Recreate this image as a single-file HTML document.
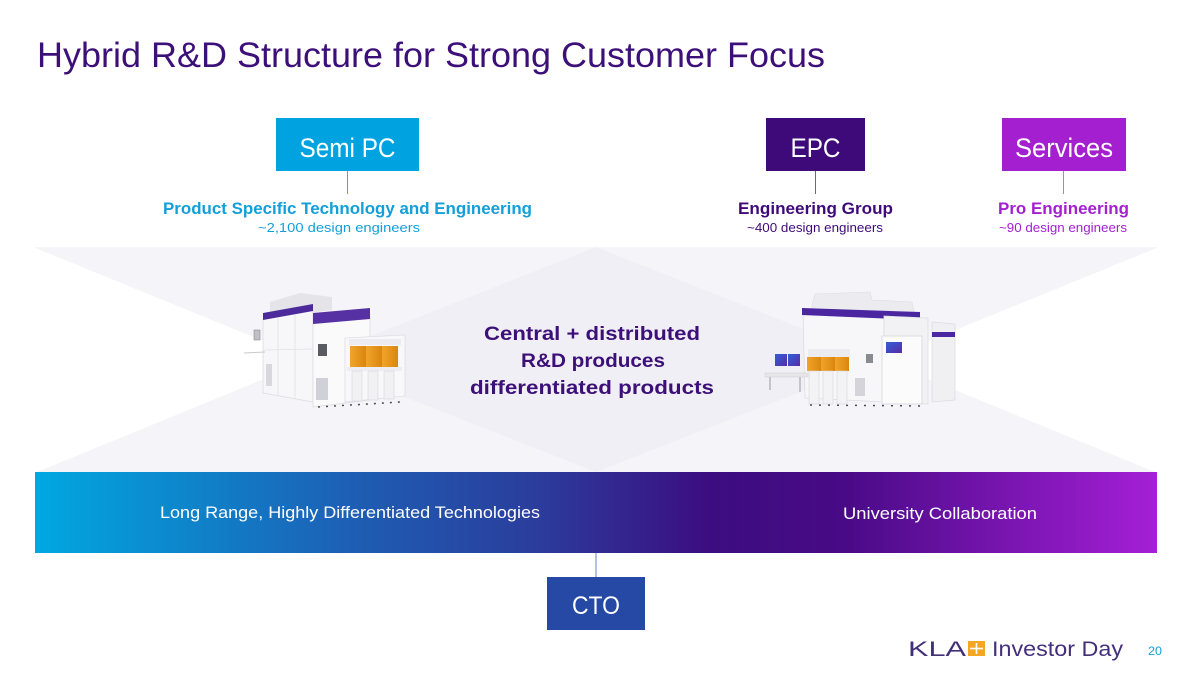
<!DOCTYPE html>
<html>
<head>
<meta charset="utf-8">
<style>
  html, body { margin: 0; padding: 0; background: #ffffff; }
  svg { display: block; }
  text { font-family: "Liberation Sans", "DejaVu Sans", sans-serif; }
</style>
</head>
<body>
<svg width="1200" height="675" viewBox="0 0 1200 675" xmlns="http://www.w3.org/2000/svg">
  <defs>
    <linearGradient id="bar" x1="0" y1="0" x2="1" y2="0">
      <stop offset="0" stop-color="#00a8e1"/>
      <stop offset="0.28" stop-color="#1d5fb4"/>
      <stop offset="0.45" stop-color="#2b3c9c"/>
      <stop offset="0.6" stop-color="#3c0d80"/>
      <stop offset="0.72" stop-color="#480a86"/>
      <stop offset="1" stop-color="#a51fd6"/>
    </linearGradient>
    <linearGradient id="orange" x1="0" y1="0" x2="1" y2="0">
      <stop offset="0" stop-color="#f2a42a"/>
      <stop offset="1" stop-color="#d9860f"/>
    </linearGradient>
    <linearGradient id="blueScreen" x1="0" y1="0" x2="1" y2="1">
      <stop offset="0" stop-color="#2f60d8"/>
      <stop offset="1" stop-color="#5a2aa8"/>
    </linearGradient>
  </defs>

  <!-- Title -->
  <text x="37" y="67" font-size="35" fill="#3c1078" textLength="788" lengthAdjust="spacingAndGlyphs">Hybrid R&amp;D Structure for Strong Customer Focus</text>

  <!-- Top boxes -->
  <rect x="276" y="118" width="143" height="53" fill="#00a3df"/>
  <text x="347.5" y="157" font-size="27" fill="#ffffff" text-anchor="middle" textLength="96" lengthAdjust="spacingAndGlyphs">Semi PC</text>

  <rect x="766" y="118" width="99" height="53" fill="#3e0a7a"/>
  <text x="815.5" y="157" font-size="27" fill="#ffffff" text-anchor="middle" textLength="50" lengthAdjust="spacingAndGlyphs">EPC</text>

  <rect x="1002" y="118" width="124" height="53" fill="#a41fd0"/>
  <text x="1064" y="157" font-size="27" fill="#ffffff" text-anchor="middle" textLength="98" lengthAdjust="spacingAndGlyphs">Services</text>

  <!-- connectors -->
  <line x1="347.5" y1="171" x2="347.5" y2="194" stroke="#33b0e3" stroke-width="1"/>
  <line x1="815.5" y1="171" x2="815.5" y2="194" stroke="#7a5aa4" stroke-width="1"/>
  <line x1="1063.5" y1="171" x2="1063.5" y2="194" stroke="#c273e2" stroke-width="1"/>

  <!-- Labels -->
  <text x="347.5" y="214" font-size="17" font-weight="bold" fill="#149fd9" text-anchor="middle" textLength="369" lengthAdjust="spacingAndGlyphs">Product Specific Technology and Engineering</text>
  <text x="339" y="232" font-size="13" fill="#149fd9" text-anchor="middle" textLength="162" lengthAdjust="spacingAndGlyphs">~2,100 design engineers</text>

  <text x="815.5" y="214" font-size="17" font-weight="bold" fill="#3e0a7a" text-anchor="middle" textLength="155" lengthAdjust="spacingAndGlyphs">Engineering Group</text>
  <text x="815" y="232" font-size="13" fill="#3e0a7a" text-anchor="middle" textLength="136" lengthAdjust="spacingAndGlyphs">~400 design engineers</text>

  <text x="1063.5" y="214" font-size="17" font-weight="bold" fill="#a41fd0" text-anchor="middle" textLength="131" lengthAdjust="spacingAndGlyphs">Pro Engineering</text>
  <text x="1063" y="232" font-size="13" fill="#a41fd0" text-anchor="middle" textLength="128" lengthAdjust="spacingAndGlyphs">~90 design engineers</text>

  <!-- Background X shape -->
  <rect x="35" y="247" width="1122" height="225" fill="#f5f5f9"/>
  <polygon points="596,247 882,360 596,472 310,360" fill="#efeff5"/>
  <polygon points="33,247 310,360 37,472 0,472 0,247" fill="#ffffff"/>
  <polygon points="1159,247 882,360 1155,472 1200,472 1200,247" fill="#ffffff"/>

  <!-- Left machine -->
  <g>
    <!-- back top box -->
    <polygon points="270,302 300,293 332,297 332,310 270,318" fill="#e4e4e9"/>
    <!-- left unit body -->
    <polygon points="263,319 313,310 313,402 263,393" fill="#f7f7f9" stroke="#dcdce2" stroke-width="0.8"/>
    <line x1="278" y1="318" x2="278" y2="396" stroke="#e0e0e6" stroke-width="0.8"/>
    <line x1="295" y1="315" x2="295" y2="399" stroke="#e0e0e6" stroke-width="0.8"/>
    <line x1="263" y1="350" x2="313" y2="349" stroke="#e0e0e6" stroke-width="0.8"/>
    <!-- left unit purple band -->
    <polygon points="263,313 313,304 313,311 263,320" fill="#4d2a9c"/>
    <!-- small monitor on side -->
    <rect x="254" y="330" width="6" height="10" fill="#bfbfc6" stroke="#8a8a92" stroke-width="0.6"/>
    <line x1="244" y1="353" x2="265" y2="352" stroke="#c8c8ce" stroke-width="1"/>
    <!-- left grille -->
    <rect x="266" y="364" width="6" height="22" fill="#d8d8de"/>
    <!-- front unit body -->
    <polygon points="313,319 370,314 370,400 313,407" fill="#fafafb" stroke="#dcdce2" stroke-width="0.8"/>
    <!-- front unit purple band -->
    <polygon points="313,313 370,308 370,319 313,324" fill="#5531a4"/>
    <!-- front unit window -->
    <rect x="318" y="344" width="9" height="12" fill="#5a5a62"/>
    <!-- front vent -->
    <rect x="316" y="378" width="12" height="22" fill="#d0d0d8"/>
    <!-- load port section -->
    <polygon points="345,338 405,335 405,396 345,402" fill="#f8f8fa" stroke="#dedee4" stroke-width="0.8"/>
    <rect x="349" y="339" width="52" height="6" fill="#ececf0"/>
    <!-- orange pods -->
    <rect x="350" y="346" width="16" height="21" fill="url(#orange)"/>
    <rect x="366" y="346" width="16" height="21" fill="url(#orange)"/>
    <rect x="382" y="346" width="16" height="21" fill="url(#orange)"/>
    <rect x="347" y="367" width="55" height="4" fill="#eeeef2"/>
    <!-- pillars -->
    <rect x="352" y="371" width="10" height="30" fill="#f1f1f4" stroke="#d6d6dc" stroke-width="0.6"/>
    <rect x="368" y="371" width="10" height="29" fill="#f1f1f4" stroke="#d6d6dc" stroke-width="0.6"/>
    <rect x="384" y="371" width="10" height="28" fill="#f1f1f4" stroke="#d6d6dc" stroke-width="0.6"/>
    <!-- feet -->
    <line x1="318" y1="407" x2="400" y2="402" stroke="#4a4a52" stroke-width="1.5" stroke-dasharray="2,6"/>
  </g>

  <!-- Right machine -->
  <g>
    <!-- top boxes -->
    <polygon points="812,306 815,294 870,292 872,300 912,302 914,312 812,312" fill="#ececf0" stroke="#dcdce2" stroke-width="0.6"/>
    <!-- main body -->
    <polygon points="803,313 884,318 884,402 805,398" fill="#f7f7f9" stroke="#dcdce2" stroke-width="0.8"/>
    <!-- purple band -->
    <polygon points="802,308 920,312 920,320 802,315" fill="#4a26a0"/>
    <!-- upper right panels -->
    <polygon points="884,316 928,318 928,404 884,402" fill="#f2f2f5" stroke="#dcdce2" stroke-width="0.8"/>
    <!-- far right unit -->
    <polygon points="932,322 955,324 955,400 932,402" fill="#f0f0f3" stroke="#dcdce2" stroke-width="0.8"/>
    <rect x="932" y="332" width="23" height="5" fill="#4a26a0"/>
    <!-- cabinet front -->
    <rect x="882" y="336" width="40" height="68" fill="#fbfbfc" stroke="#d6d6dc" stroke-width="0.8"/>
    <rect x="886" y="342" width="16" height="11" fill="url(#blueScreen)"/>
    <!-- window -->
    <rect x="866" y="354" width="7" height="9" fill="#8a8a92"/>
    <!-- table with monitors -->
    <rect x="775" y="354" width="12" height="12" fill="url(#blueScreen)"/>
    <rect x="788" y="354" width="12" height="12" fill="url(#blueScreen)"/>
    <rect x="765" y="373" width="43" height="4" fill="#e6e6ea" stroke="#cfcfd5" stroke-width="0.5"/>
    <line x1="770" y1="377" x2="770" y2="390" stroke="#9a9aa2" stroke-width="1"/>
    <line x1="800" y1="377" x2="800" y2="392" stroke="#9a9aa2" stroke-width="1"/>
    <!-- orange pods -->
    <rect x="807" y="357" width="14" height="14" fill="url(#orange)"/>
    <rect x="821" y="357" width="14" height="14" fill="url(#orange)"/>
    <rect x="835" y="357" width="14" height="14" fill="url(#orange)"/>
    <rect x="808" y="349" width="42" height="8" fill="#ececf0"/>
    <!-- pillars -->
    <rect x="809" y="371" width="10" height="33" fill="#f3f3f6" stroke="#d6d6dc" stroke-width="0.6"/>
    <rect x="823" y="371" width="10" height="33" fill="#f3f3f6" stroke="#d6d6dc" stroke-width="0.6"/>
    <rect x="837" y="371" width="10" height="33" fill="#f3f3f6" stroke="#d6d6dc" stroke-width="0.6"/>
    <rect x="855" y="378" width="10" height="18" fill="#d4d4da"/>
    <line x1="810" y1="405" x2="925" y2="406" stroke="#4a4a52" stroke-width="1.5" stroke-dasharray="2,7"/>
  </g>

  <!-- Central text -->
  <text x="592" y="340" font-size="19" font-weight="bold" fill="#3c1078" text-anchor="middle" textLength="216" lengthAdjust="spacingAndGlyphs">Central + distributed</text>
  <text x="593" y="367" font-size="19" font-weight="bold" fill="#3c1078" text-anchor="middle" textLength="144" lengthAdjust="spacingAndGlyphs">R&amp;D produces</text>
  <text x="592" y="394" font-size="19" font-weight="bold" fill="#3c1078" text-anchor="middle" textLength="244" lengthAdjust="spacingAndGlyphs">differentiated products</text>

  <!-- Gradient bar -->
  <rect x="35" y="472" width="1122" height="81" fill="url(#bar)"/>
  <text x="350" y="518" font-size="17" fill="#ffffff" text-anchor="middle" textLength="380" lengthAdjust="spacingAndGlyphs">Long Range, Highly Differentiated Technologies</text>
  <text x="940" y="519" font-size="17" fill="#ffffff" text-anchor="middle" textLength="194" lengthAdjust="spacingAndGlyphs">University Collaboration</text>

  <!-- CTO -->
  <line x1="596" y1="553" x2="596" y2="577" stroke="#6a84bf" stroke-width="1"/>
  <rect x="547" y="577" width="98" height="53" fill="#2549a5"/>
  <text x="596" y="614" font-size="25" fill="#ffffff" text-anchor="middle" textLength="48" lengthAdjust="spacingAndGlyphs">CTO</text>

  <!-- Footer -->
  <text x="908" y="656" font-size="21" fill="#43307a" textLength="58" lengthAdjust="spacingAndGlyphs">KLA</text>
  <rect x="968" y="641" width="17" height="15" fill="#f5a623"/>
  <line x1="976.5" y1="643" x2="976.5" y2="654" stroke="#ffffff" stroke-width="1.6"/>
  <line x1="970" y1="648.5" x2="983" y2="648.5" stroke="#ffffff" stroke-width="1.6"/>
  <text x="992" y="656" font-size="21" fill="#43307a" textLength="131" lengthAdjust="spacingAndGlyphs">Investor Day</text>
  <text x="1148" y="655" font-size="12" fill="#149fd9" textLength="14" lengthAdjust="spacingAndGlyphs">20</text>
</svg>
</body>
</html>
